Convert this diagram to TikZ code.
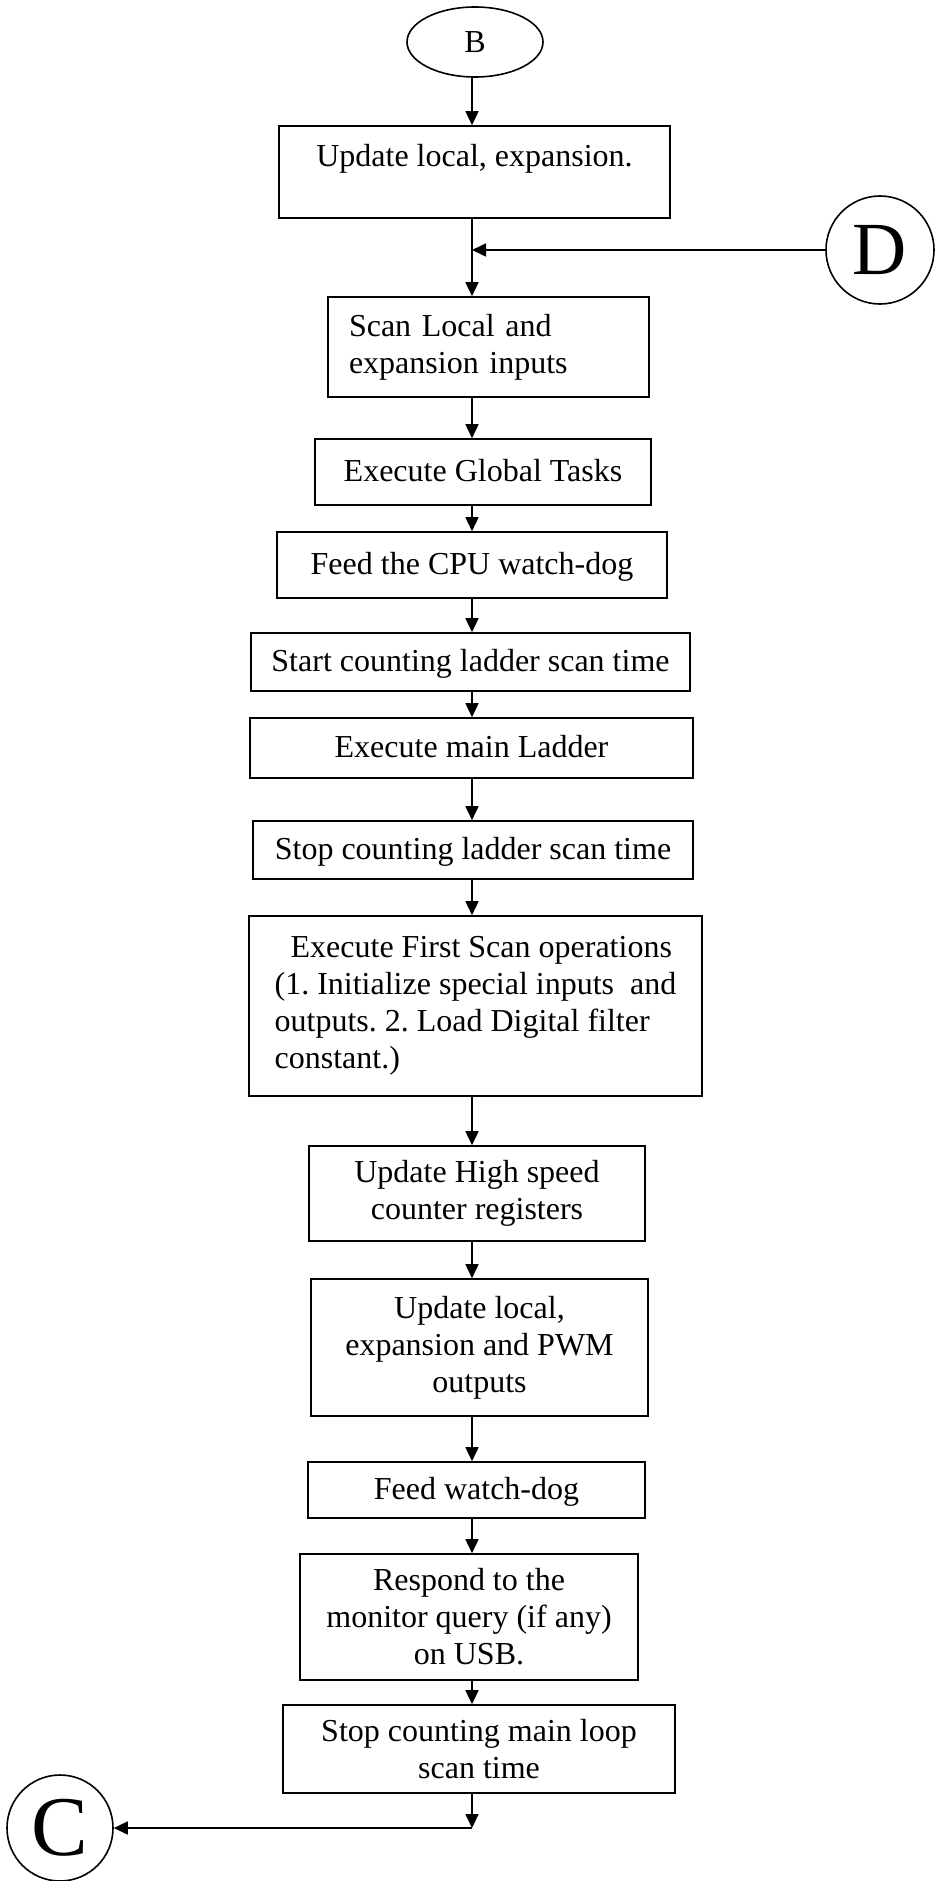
\documentclass[tikz,border=0pt]{standalone}
\usepackage{fontspec}
\setmainfont{Liberation Serif}
\frenchspacing
\usetikzlibrary{shapes.geometric,arrows.meta}
\begin{document}
\begin{tikzpicture}[x=1pt,y=-1pt,
  box/.style={draw, line width=1.6pt, inner sep=0pt, align=center, font=\fontsize{32}{37}\selectfont},
  one/.style={text height=22pt, text depth=4pt},
  arr/.style={line width=1.6pt, -{Triangle[length=14pt,width=13pt]}},
  conn/.style={draw, line width=1.6pt, inner sep=0pt}]
\useasboundingbox (0,0) rectangle (935,1881);
\node[conn, ellipse, minimum width=136pt, minimum height=70pt, font=\fontsize{32}{37}\selectfont] (B) at (475,42) {B};
\coordinate (spine) at (472,0);
\node[box, minimum width=391pt, minimum height=92pt, text height=22pt, text depth=32pt] (b1) at (474.5,172) {Update local, expansion.};
\node[conn, circle, minimum size=108pt, font=\fontsize{75}{80}\selectfont] (D) at (880,250) {D};
\node[box, minimum width=321pt, minimum height=100pt, text width=279pt, align=left] (b2) at (488.5,347) {Scan Local and\\expansion inputs};
\node[box, one, minimum width=336pt, minimum height=66pt] (b3) at (483,472) {Execute Global Tasks};
\node[box, one, minimum width=390pt, minimum height=66pt] (b4) at (472,565) {Feed the CPU watch-dog};
\node[box, one, minimum width=439pt, minimum height=58pt] (b5) at (470.5,662) {Start counting ladder scan time};
\node[box, one, minimum width=443pt, minimum height=60pt] (b6) at (471.5,748) {Execute main Ladder};
\node[box, one, minimum width=440pt, minimum height=58pt] (b7) at (473,850) {Stop counting ladder scan time};
\node[box, minimum width=453pt, minimum height=180pt, align=left] (b8) at (475.5,1006) {\hspace*{16pt}Execute First Scan operations\\(1. Initialize special inputs~ and\\outputs. 2. Load Digital filter\\constant.)};
\node[box, minimum width=336pt, minimum height=95pt] (b9) at (477,1193.5) {Update High speed\\counter registers};
\node[box, minimum width=337pt, minimum height=137pt] (b10) at (479.5,1347.5) {Update local,\\expansion and PWM\\outputs};
\node[box, one, minimum width=337pt, minimum height=56pt] (b11) at (476.5,1490) {Feed watch-dog};
\node[box, minimum width=338pt, minimum height=126pt] (b12) at (469,1617) {Respond to the\\monitor query (if any)\\on USB.};
\node[box, minimum width=392pt, minimum height=88pt] (b13) at (479,1749) {Stop counting main loop\\scan time};
\node[conn, circle, minimum size=106pt, font=\fontsize{85}{90}\selectfont] (C) at (60,1828) {C};
\coordinate (J) at (472,1828);
\draw[arr] (B.south -| spine) -- (b1.north -| spine);
\draw[arr] (b1.south -| spine) -- (b2.north -| spine);
\draw[arr] (D.west) -- (D.west -| spine);
\draw[arr] (b2.south -| spine) -- (b3.north -| spine);
\draw[arr] (b3.south -| spine) -- (b4.north -| spine);
\draw[arr] (b4.south -| spine) -- (b5.north -| spine);
\draw[arr] (b5.south -| spine) -- (b6.north -| spine);
\draw[arr] (b6.south -| spine) -- (b7.north -| spine);
\draw[arr] (b7.south -| spine) -- (b8.north -| spine);
\draw[arr] (b8.south -| spine) -- (b9.north -| spine);
\draw[arr] (b9.south -| spine) -- (b10.north -| spine);
\draw[arr] (b10.south -| spine) -- (b11.north -| spine);
\draw[arr] (b11.south -| spine) -- (b12.north -| spine);
\draw[arr] (b12.south -| spine) -- (b13.north -| spine);
\draw[arr] (b13.south -| spine) -- (J);
\draw[arr] (J) -- (C.east);
\end{tikzpicture}
\end{document}
